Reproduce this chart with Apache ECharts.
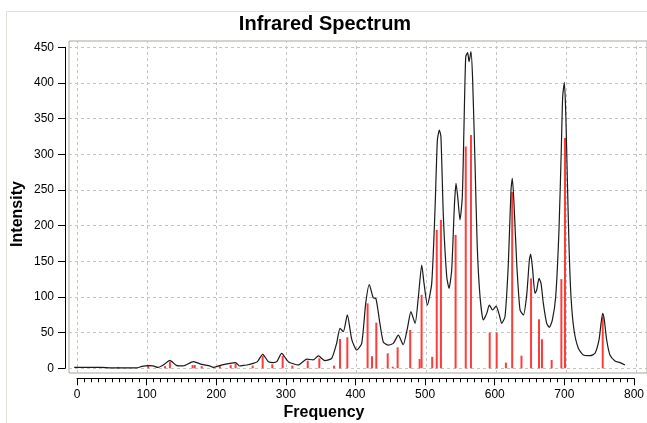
<!DOCTYPE html>
<html><head><meta charset="utf-8">
<script src="https://cdn.jsdelivr.net/npm/echarts@6/dist/echarts.min.js"></script>
<style>html,body{margin:0;padding:0;background:#fff}#c{width:647px;height:423px}</style>
</head><body><div id="c"></div>
<script>
// Stick spectrum (frequency, intensity)
const stickFreq = [59,102,126,133,165.5,168.5,178.5,204.5,220,227,251.5,265.8,279.6,294.4,308.3,330.3,346.9,368,376.5,387,416,422.3,428.5,444.8,452,459,477,490.5,493.3,508.5,515,521,542,556.5,564,590.8,600.8,614,623,636.3,650,661.4,665.7,679.5,693.4,698.6,752.6];
const stickInt  = [2,3.7,3,9.3,4.5,4.5,3,3.7,4.5,6.5,3.7,17.2,5.6,17.2,3.7,10.7,14,3.7,41,43.5,91,17,64,21,2.2,29.4,53.7,13,103,16,194,208,187,311,327,50,50,8,247,17.7,126,68.7,40.6,11.6,125,323,72];
// Broadened spectrum curve
const curveFreq = [-4,35,50,85,93,102,109,116,123.5,133,143,152,166.5,178.5,190,195,205,219,227,233,238,245,252.4,258,265.8,274,281,286,293,302.5,317,329,338,345.5,355,364.6,371.7,376.5,381.3,387,393.3,400.4,407.6,413.3,418.5,424,428,433.7,438.5,445.7,452.8,460,467,473,478,484,488.7,493.5,496.8,501.6,507.8,512.5,515.9,518.7,521,524.5,529.3,532.6,536.4,540.2,542.6,545,548.3,551.6,554,556.5,559.3,561.2,564,566.4,569.8,573,577,581.7,586.6,590.3,595,600,604.6,608,612.7,617.5,621.3,623.2,625.6,629.5,634.2,639,643.8,647.6,649.5,651.9,655.7,658.1,661.4,664.3,667.6,672.4,676.2,680.5,685.3,690,693.4,695.3,697.7,699.7,702,704.4,707.2,711.5,717.7,724.8,734.4,741.6,747.3,750.2,752.6,754.9,758.3,763,770.2,777.4,784.5];
const curveInt  = [1.4,1.2,0.5,0.5,2.6,3.7,3.3,1.2,4.5,11,3.7,3.3,9.3,5.6,3.3,1.4,4,7,8,3.2,4,5,7,9,19.6,9.3,8,9.3,21,9.3,4.7,13,11.7,17.3,10.7,14,35,56,51.4,74.8,40.6,25.6,35,91,117.5,99,97.7,62.6,37,32.5,35,46.4,33,56,79.4,63,100,144.8,119,88.7,119,222,320,334,324.7,212.5,128.4,112,137.8,226.6,259.3,240.6,208,240.6,338.7,436.8,442.5,429.8,443.9,404,287.4,170.5,100.4,67.7,77,88.7,81.7,87.3,74.7,63,72.3,147,250,266.4,231.3,147,82,74.7,103,151.8,160,142.5,105,109.8,126,119,91,63,57.5,67.7,100.4,194,310.7,380.8,401,357.5,264,170.5,100.4,53.7,28,18.6,17.7,21,39.7,63,77,67.7,39.7,18.6,10.2,7.9,4.6];
// Axis ticks
const xTickValues = [0,100,200,300,400,500,600,700,800];
const yTickValues = [0,50,100,150,200,250,300,350,400,450];
const titleText = 'Infrared Spectrum';
const xName = 'Frequency';
const yName = 'Intensity';

const chart = echarts.init(document.getElementById('c'), null, {renderer:'canvas'});
const font = 'Liberation Sans, Arial, sans-serif';
const gridLineStyle = {color:'#c4c4c4', type:[3,3], width:1};
const markData = xTickValues.map(v => ({xAxis:v})).concat(yTickValues.map(v => ({yAxis:v})));
const hiddenAxis = (g, min, max) => ({gridIndex:g, type:'value', min:min, max:max, show:false});

chart.setOption({
  animation:false,
  backgroundColor:'#ffffff',
  grid:[
    {left:69, right:0, top:41, bottom:50, show:true, borderColor:'#aaa69c', borderWidth:1, backgroundColor:'#fff'},
    {left:65, width:4, top:47.3, bottom:54.7, show:false},
    {left:77, right:11.2, top:370, bottom:44.7, show:false}
  ],
  xAxis:[
    hiddenAxis(0, -11.45, 816),
    hiddenAxis(1, 0, 1),
    {gridIndex:2, type:'value', position:'bottom', min:0, max:800, interval:100,
     axisLine:{show:true, onZero:false, lineStyle:{color:'#000', width:1}},
     axisTick:{show:true, length:7, lineStyle:{color:'#000'}},
     minorTick:{show:true, splitNumber:10, length:4, lineStyle:{color:'#000'}},
     axisLabel:{show:true, margin:10, color:'#000', fontSize:12, fontFamily:font},
     splitLine:{show:false}}
  ],
  yAxis:[
    hiddenAxis(0, -6.59, 458.85),
    {gridIndex:1, type:'value', position:'left', min:0, max:450, interval:50,
     axisLine:{show:true, onZero:false, lineStyle:{color:'#000', width:1}},
     axisTick:{show:true, length:7, lineStyle:{color:'#000'}},
     axisLabel:{show:true, margin:11, color:'#000', fontSize:12, fontFamily:font},
     splitLine:{show:false}},
    hiddenAxis(2, 0, 1)
  ],
  series:[
    {type:'bar', xAxisIndex:0, yAxisIndex:0, barWidth:2, barGap:'-100%',
     itemStyle:{color:'#ff3c3c'}, z:2,
     data: stickFreq.map((f,i)=>[f, stickInt[i]])},
    {type:'line', xAxisIndex:0, yAxisIndex:0, symbol:'none', smooth:0.2, z:3,
     lineStyle:{color:'#1a1a1a', width:1.2},
     data: curveFreq.map((f,i)=>[f, curveInt[i]]),
     markLine:{silent:true, symbol:'none', label:{show:false}, lineStyle:gridLineStyle, z:1, data:markData}}
  ],
  graphic:[
    {type:'line', shape:{x1:6.5,y1:11.5,x2:6.5,y2:423}, style:{stroke:'#e2e0d6', lineWidth:1}},
    {type:'line', shape:{x1:6.5,y1:11.5,x2:647,y2:11.5}, style:{stroke:'#e2e0d6', lineWidth:1}},
    {type:'text', x:325, y:24, style:{text:titleText, font:'bold 20px '+font, fill:'#000', align:'center', verticalAlign:'middle'}},
    {type:'text', x:324, y:413, style:{text:xName, font:'bold 16px '+font, fill:'#000', align:'center', verticalAlign:'middle'}},
    {type:'text', x:18, y:214, rotation:Math.PI/2, style:{text:yName, font:'bold 16px '+font, fill:'#000', align:'center', verticalAlign:'middle'}}
  ]
});
</script>
</body></html>
